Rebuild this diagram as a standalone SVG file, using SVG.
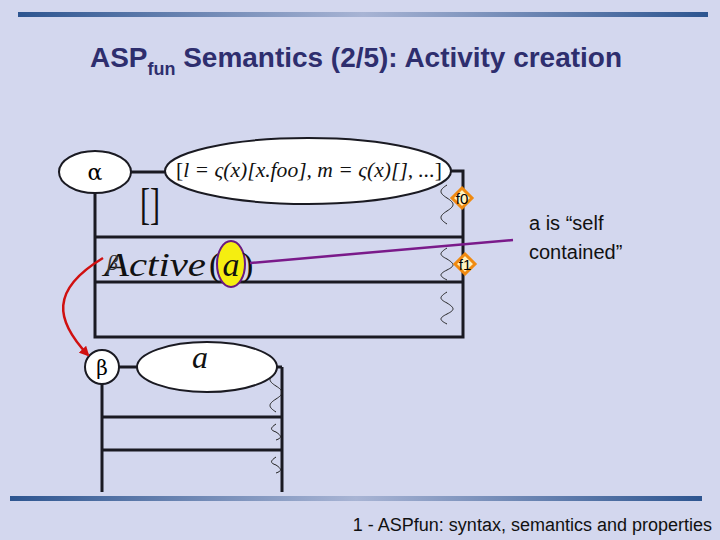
<svg xmlns="http://www.w3.org/2000/svg" width="720" height="540" viewBox="0 0 720 540">
<defs>
<linearGradient id="bar" x1="0" x2="1"><stop offset="0" stop-color="#2d5590"/><stop offset="0.5" stop-color="#a8b4d4"/><stop offset="1" stop-color="#2d5590"/></linearGradient>
<marker id="ar" markerWidth="10" markerHeight="10" refX="8" refY="5" orient="auto" markerUnits="userSpaceOnUse"><path d="M0,0 L10,5 L0,10 z" fill="#d01010"/></marker>
<style>
.ln{fill:none;stroke:#1a1a22;stroke-width:3}
.el{fill:#fff;stroke:#1a1a22;stroke-width:2}
.sq{fill:none;stroke:#222;stroke-width:1}
.ss{font-family:"Liberation Sans",Arial,sans-serif}
.mt{font-family:"Liberation Serif","Times New Roman",serif;font-style:italic}
.dm{fill:#fff3c0;stroke:#f08a10;stroke-width:3}
</style>
</defs>
<rect width="720" height="540" fill="#d3d7ee"/>
<rect x="18" y="12" width="690" height="5" fill="url(#bar)"/>
<rect x="10" y="496" width="692" height="5" fill="url(#bar)"/>
<text class="ss" x="90" y="67" font-size="28" font-weight="bold" fill="#2e2e6e" textLength="532" lengthAdjust="spacingAndGlyphs">ASP<tspan font-size="18" dy="8">fun</tspan><tspan dy="-8"> Semantics (2/5): Activity creation</tspan></text>
<text class="ss" x="712" y="531" font-size="18" text-anchor="end" fill="#111">1 - ASPfun: syntax, semantics and properties</text>
<g id="alpha-activity">
<path class="ln" d="M95,172 V337 H463 V171 H440 M95,237 H463 M95,282 H463 M130,172 H170"/>
<ellipse class="el" cx="308" cy="171" rx="143" ry="33"/>
<ellipse class="el" cx="95" cy="172" rx="36" ry="21"/>
<text x="95" y="180" font-size="22" text-anchor="middle" font-family="DejaVu Serif,serif">α</text>
<text class="mt" x="176" y="177" font-size="20" fill="#111" textLength="266" lengthAdjust="spacingAndGlyphs"><tspan font-style="normal">[</tspan>l = ς(x)[x.foo], m = ς(x)[], ...<tspan font-style="normal">]</tspan></text>
<text x="140" y="219" font-size="44" font-family="Liberation Serif,serif" fill="#111" textLength="20" lengthAdjust="spacingAndGlyphs">[]</text>
<text class="mt" x="104" y="276" font-size="34" fill="#111" textLength="102" lengthAdjust="spacingAndGlyphs">Active</text>
<text class="mt" x="107" y="270" font-size="22" fill="#333">β</text>
<text x="209" y="276" font-size="34" font-family="Liberation Serif,serif" fill="#111">(</text>
<ellipse cx="231" cy="264" rx="14" ry="23" fill="#f5ee10" stroke="#6a1a80" stroke-width="2"/>
<text class="mt" x="231" y="276" font-size="34" text-anchor="middle" fill="#111">a</text>
<text x="242" y="276" font-size="34" font-family="Liberation Serif,serif" fill="#111">)</text>
<path class="sq" d="M447,185 c-8,5 -8,8 0,13 c8,5 8,8 0,13 c-8,5 -8,8 0,13"/>
<path class="sq" d="M447,248 c-8,5 -8,7 0,11 c8,5 8,7 0,11 c-8,4 -8,6 0,10"/>
<path class="sq" d="M447,292 c-8,5 -8,7 0,11 c8,5 8,7 0,11 c-8,4 -8,6 0,10"/>
</g>
<g id="f0"><path class="dm" d="M462,188 L472,198 L462,208 L452,198 z"/><text class="ss" x="462" y="204" font-size="15" text-anchor="middle">f0</text></g>
<g id="f1"><path class="dm" d="M465,254 L475,264 L465,274 L455,264 z"/><text class="ss" x="465" y="270" font-size="15" text-anchor="middle">f1</text></g>
<g id="beta-activity">
<path class="ln" d="M102,367 V492 M102,417 H282 M102,450 H282 M282,367 V492 M118,367 H140 M270,367 H282"/>
<circle class="el" cx="102" cy="367" r="17"/>
<text x="102" y="375" font-size="20" text-anchor="middle" font-family="DejaVu Serif,serif">β</text>
<ellipse class="el" cx="207" cy="367" rx="70" ry="25"/>
<text class="mt" x="200" y="368" font-size="32" text-anchor="middle" fill="#111">a</text>
<path class="sq" d="M276,373 c-8,5 -8,8 0,13 c8,5 8,8 0,13 c-8,5 -8,8 0,13"/>
<path class="sq" d="M276,424 c-6,4 -6,6 0,8 c6,4 6,6 0,8"/>
<path class="sq" d="M276,457 c-6,4 -6,6 0,8 c6,4 6,6 0,8"/>
</g>
<g id="connectors">
<path d="M250,263 L513,240" stroke="#7a1a8a" stroke-width="2.5" fill="none"/>
<path d="M103,258 C50,290 55,320 88,355" stroke="#d01010" stroke-width="2.5" fill="none" marker-end="url(#ar)"/>
</g>
<g id="note"><text class="ss" font-size="20" fill="#111"><tspan x="529" y="230">a is “self</tspan><tspan x="529" y="259">contained”</tspan></text></g>
</svg>
